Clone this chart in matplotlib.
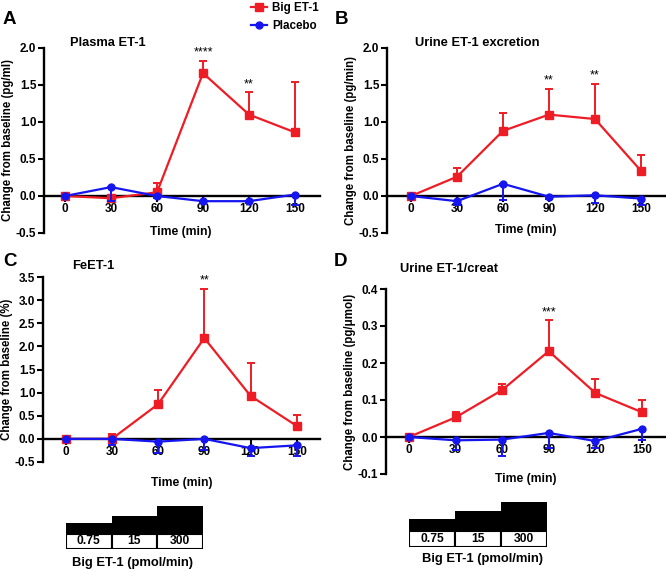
import matplotlib
matplotlib.use("Agg")
import matplotlib.pyplot as plt
from matplotlib.patches import Rectangle
from matplotlib.lines import Line2D
import numpy as np

plt.rcParams['font.family'] = ['Liberation Sans', 'DejaVu Sans']
plt.rcParams['font.weight'] = 'bold'

# ---------------- data ----------------
time = [0, 30, 60, 90, 120, 150]

# Panel A: Plasma ET-1 (pg/ml)
a_big = [0.0, -0.03, 0.05, 1.66, 1.10, 0.86]
a_big_err = [0.0, 0.04, 0.12, 0.17, 0.30, 0.68]
a_pla = [0.0, 0.12, 0.0, -0.07, -0.07, 0.02]
a_pla_err = [0.0, 0.19, 0.03, 0.03, 0.03, 0.14]
a_sig = {90: "****", 120: "**"}

# Panel B: Urine ET-1 excretion (pg/min)
b_big = [0.0, 0.26, 0.88, 1.10, 1.04, 0.34]
b_big_err = [0.0, 0.12, 0.24, 0.35, 0.48, 0.22]
b_pla = [0.0, -0.07, 0.165, -0.01, 0.01, -0.035]
b_pla_err = [0.0, 0.05, 0.22, 0.03, 0.11, 0.09]
b_sig = {90: "**", 120: "**"}

# Panel C: FeET-1 (%)
c_big = [0.0, 0.0, 0.75, 2.18, 0.93, 0.28]
c_big_err = [0.0, 0.10, 0.31, 1.07, 0.72, 0.23]
c_pla = [0.0, 0.0, -0.06, 0.0, -0.20, -0.14]
c_pla_err = [0.0, 0.14, 0.24, 0.24, 0.18, 0.24]
c_sig = {90: "**"}

# Panel D: Urine ET-1/creat (pg/umol)
d_big = [0.0, 0.053, 0.127, 0.232, 0.119, 0.067]
d_big_err = [0.0, 0.015, 0.016, 0.083, 0.038, 0.032]
d_pla = [0.0, -0.009, -0.007, 0.011, -0.011, 0.022]
d_pla_err = [0.0, 0.027, 0.043, 0.041, 0.019, 0.029]
d_sig = {90: "***"}

doses = ["0.75", "15", "300"]

RED = "#ee1c24"
BLUE = "#1515f0"

W, H = 666, 571
fig = plt.figure(figsize=(W / 100, H / 100), dpi=100)


def px_axes(x0, x1, y0, y1):
    return fig.add_axes([x0 / W, 1 - y1 / H, (x1 - x0) / W, (y1 - y0) / H])


def ftext(x, y, s, **kw):
    fig.text(x / W, 1 - y / H, s, **kw)


def panel(box, ylim, yticks, xlim, big, big_err, pla, pla_err, sig, ylabel, yfmt):
    ax = px_axes(*box)
    zeros = np.zeros(len(time))
    ax.errorbar(time, big, yerr=[zeros, big_err], color=RED, marker='s',
                markersize=5.5, lw=1.6, capsize=3, capthick=1.4, elinewidth=1.4,
                zorder=3, clip_on=False)
    ax.errorbar(time, pla, yerr=[pla_err, zeros], color=BLUE, marker='o',
                markersize=5, lw=1.6, capsize=3, capthick=1.4, elinewidth=1.4,
                zorder=4, clip_on=False)
    ax.set_xlim(*xlim)
    ax.set_ylim(*ylim)
    ax.set_yticks(yticks)
    ax.set_yticklabels([yfmt.format(v) for v in yticks])
    ax.set_xticks(time)
    ax.set_xticklabels([str(t) for t in time])
    for s in ['top', 'right']:
        ax.spines[s].set_visible(False)
    ax.spines['bottom'].set_position(('data', 0))
    ax.spines['bottom'].set_linewidth(1.7)
    ax.spines['left'].set_linewidth(1.7)
    ax.tick_params(axis='both', labelsize=8.5, width=1.5, length=4, pad=1.5)
    ax.tick_params(axis='x', pad=1)
    ax.set_ylabel(ylabel, fontsize=8.3, fontweight='bold', labelpad=1.5)
    ax.patch.set_visible(False)
    for t, s in sig.items():
        i = time.index(t)
        ax.annotate(s, (t, big[i] + big_err[i]), xytext=(0, 1.5),
                    textcoords='offset points', ha='center', va='bottom',
                    fontsize=9, fontweight='normal')
    return ax


axA = panel((44, 320, 48, 233), (-0.5, 2.0), [-0.5, 0.0, 0.5, 1.0, 1.5, 2.0],
            (-13.7, 166.3), a_big, a_big_err, a_pla, a_pla_err, a_sig,
            "Change from baseline (pg/ml)", "{:.1f}")
axB = panel((387, 666, 48, 233), (-0.5, 2.0), [-0.5, 0.0, 0.5, 1.0, 1.5, 2.0],
            (-15.6, 166.3), b_big, b_big_err, b_pla, b_pla_err, b_sig,
            "Change from baseline (pg/min)", "{:.1f}")
axC = panel((43, 320, 277, 462), (-0.5, 3.5),
            [-0.5, 0.0, 0.5, 1.0, 1.5, 2.0, 2.5, 3.0, 3.5],
            (-14.7, 165.1), c_big, c_big_err, c_pla, c_pla_err, c_sig,
            "Change from baseline (%)", "{:.1f}")
axD = panel((386, 666, 289, 474), (-0.1, 0.4), [-0.1, 0.0, 0.1, 0.2, 0.3, 0.4],
            (-14.8, 165.5), d_big, d_big_err, d_pla, d_pla_err, d_sig,
            "Change from baseline (pg/\u03bcmol)", "{:.1f}")

# titles, panel letters, x labels
ftext(70, 43, "Plasma ET-1", fontsize=9.3, fontweight='bold', va='center')
ftext(415, 43, "Urine ET-1 excretion", fontsize=9.3, fontweight='bold', va='center')
ftext(72, 266, "FeET-1", fontsize=9.3, fontweight='bold', va='center')
ftext(400, 269, "Urine ET-1/creat", fontsize=9.3, fontweight='bold', va='center')
for (x, y, s) in [(3, 19, "A"), (335, 19, "B"), (3, 262, "C"), (334, 262, "D")]:
    ftext(x, y, s, fontsize=13.5, fontweight='bold', va='center')
for (x, y) in [(181, 232), (526, 230), (182, 483), (526, 479)]:
    ftext(x, y, "Time (min)", fontsize=8.7, fontweight='bold', ha='center', va='center')

# legend
handles = [Line2D([], [], color=RED, marker='s', markersize=5.5, lw=1.6),
           Line2D([], [], color=BLUE, marker='o', markersize=5, lw=1.6)]
fig.legend(handles, ["Big ET-1", "Placebo"], loc='upper left',
           bbox_to_anchor=(251 / W, 1 - 2 / H), frameon=False,
           prop={'size': 8.4, 'weight': 'bold'}, handlelength=1.35,
           handletextpad=0.45, labelspacing=0.55, borderpad=0, borderaxespad=0)


# dose boxes
def dose_box(x0, x1, y0, y1, white_frac, step_tops, label_xy):
    ax = px_axes(x0, x1, y0, y1)
    ax.set_xlim(0, len(doses))
    ax.set_ylim(0, 1)
    ax.axis('off')
    for i, d in enumerate(doses):
        ax.add_patch(Rectangle((i, white_frac), 1, step_tops[i] - white_frac,
                               facecolor='black', edgecolor='black', lw=0))
        ax.add_patch(Rectangle((i, 0), 1, white_frac, facecolor='white',
                               edgecolor='black', lw=1.5))
        ax.text(i + 0.5, white_frac / 2, d, ha='center', va='center',
                fontsize=8.7, fontweight='bold')
    ftext(label_xy[0], label_xy[1], "Big ET-1 (pmol/min)", fontsize=9.4,
          fontweight='bold', ha='center', va='center')


dose_box(66, 203, 506, 549, 0.35, [0.6, 0.77, 1.0], (133, 563))
dose_box(409, 547, 502, 547, 0.36, [0.62, 0.8, 1.0], (483, 559))

fig.savefig("out.png", dpi=100)
